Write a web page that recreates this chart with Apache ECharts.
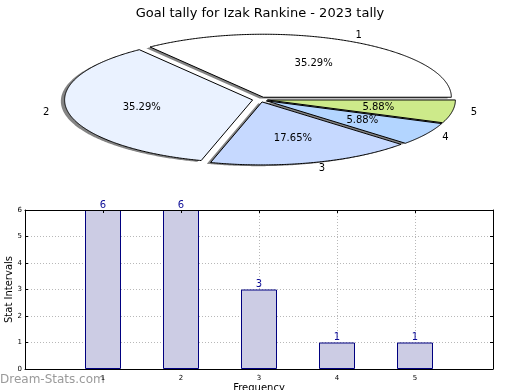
<!DOCTYPE html>
<html>
<head>
<meta charset="utf-8">
<script src="https://cdn.jsdelivr.net/npm/echarts@6/dist/echarts.min.js"></script>
<style>
html,body{margin:0;padding:0;background:#fff;}
#main{width:520px;height:390px;}
</style>
</head>
<body>
<div id="main"></div>
<script>
const titleText = 'Goal tally for Izak Rankine - 2023 tally';
const categories = ['1', '2', '3', '4', '5'];
const values = [6, 6, 3, 1, 1];
const sliceColors = ['#ffffff', '#eaf2ff', '#c6d9ff', '#b3d5ff', '#cdea8a'];
const yTicks = [0, 1, 2, 3, 4, 5, 6];
const yAxisName = 'Stat Intervals';
const xAxisName = 'Frequency';
const watermark = 'Dream-Stats.com';

const FONT = 'DejaVu Sans';
const total = values.reduce((a, b) => a + b, 0);
const cum = [0];
values.forEach((v, i) => cum.push(cum[i] + v));

// pie geometry (elliptical, matplotlib style)
const P = { cx: 260, cy: 99.5, rx: 188, ry: 63, explode: 0.04, shX: -0.02, shY: -0.02 };

function renderSlice(params, api) {
  const i = params.dataIndex;
  const v = api.value(0);
  const a0 = cum[i] / total * 360;
  const a1 = a0 + v / total * 360;
  const mid = (a0 + a1) / 2 * Math.PI / 180;
  const ox = P.cx + P.explode * P.rx * Math.cos(mid);
  const oy = P.cy - P.explode * P.ry * Math.sin(mid);
  const pts = [[ox, oy]];
  const steps = Math.max(2, Math.ceil((a1 - a0) * 2));
  for (let k = 0; k <= steps; k++) {
    const a = (a0 + (a1 - a0) * k / steps) * Math.PI / 180;
    pts.push([ox + P.rx * Math.cos(a), oy - P.ry * Math.sin(a)]);
  }
  const sdx = P.shX * P.rx, sdy = -P.shY * P.ry;
  const shadowPts = pts.map(p => [p[0] + sdx, p[1] + sdy]);
  const pct = (v / total * 100).toFixed(2) + '%';
  const cx6 = Math.cos(mid), sy6 = Math.sin(mid);
  return {
    type: 'group',
    children: [
      { type: 'polygon', z2: 0, shape: { points: shadowPts }, style: { fill: 'rgba(50,50,50,0.6)' } },
      { type: 'polygon', z2: 10, shape: { points: pts }, style: { fill: sliceColors[i], stroke: '#000', lineWidth: 1 } },
      { type: 'text', z2: 20, style: { text: pct, x: ox + 0.6 * P.rx * cx6, y: oy - 0.6 * P.ry * sy6,
          align: 'center', verticalAlign: 'middle', font: '10px "' + FONT + '"', fill: '#000' } },
      { type: 'text', z2: 20, style: { text: categories[i], x: ox + 1.1 * P.rx * cx6, y: oy - 1.1 * P.ry * sy6,
          align: cx6 > 0 ? 'left' : 'right', verticalAlign: 'middle', font: '10px "' + FONT + '"', fill: '#000' } }
    ]
  };
}

const chart = echarts.init(document.getElementById('main'), null, { renderer: 'canvas' });
const gridLine = { show: true, lineStyle: { color: '#b8b8b8', type: [1, 2], width: 1 } };
const frameLine = { show: true, onZero: false, lineStyle: { color: '#000', width: 1 } };
const tick = { show: true, inside: true, length: 3, lineStyle: { color: '#000' } };
const option = {
  animation: false,
  backgroundColor: '#fff',
  textStyle: { fontFamily: FONT },
  title: {
    text: titleText, left: 'center', top: 2,
    textStyle: { fontFamily: FONT, fontSize: 13, fontWeight: 'normal', color: '#000' }
  },
  graphic: [{
    type: 'text', left: 0, top: 374,
    style: { text: watermark, font: '12px "' + FONT + '"', fill: '#9a9a9a' }
  }],
  grid: { left: 25, right: 27, top: 210, bottom: 21, show: false, outerBoundsMode: 'none', containLabel: false },
  xAxis: [{
    type: 'value', min: 0, max: 6, interval: 1, position: 'bottom',
    name: xAxisName, nameLocation: 'middle', nameGap: 14, nameMoveOverlap: false,
    nameTextStyle: { fontSize: 10, color: '#000', fontFamily: FONT },
    axisLine: frameLine, axisTick: tick,
    axisLabel: { fontSize: 7, color: '#000', margin: 6, fontFamily: FONT,
      formatter: v => (v === 0 || v === 6) ? '' : String(v) },
    splitLine: gridLine
  }, {
    type: 'value', min: 0, max: 6, interval: 1, position: 'top', z: 5,
    axisLine: frameLine, axisTick: tick,
    axisLabel: { show: false }, splitLine: { show: false }
  }],
  yAxis: [{
    type: 'value', min: 0, max: 6, interval: 1, position: 'left',
    name: yAxisName, nameLocation: 'middle', nameGap: 11, nameMoveOverlap: false,
    nameTextStyle: { fontSize: 10, color: '#000', fontFamily: FONT },
    axisLine: frameLine, axisTick: tick,
    axisLabel: { fontSize: 7, color: '#000', margin: 3, fontFamily: FONT },
    splitLine: gridLine
  }, {
    type: 'value', min: 0, max: 6, interval: 1, position: 'right', z: 5,
    axisLine: frameLine, axisTick: tick,
    axisLabel: { show: false }, splitLine: { show: false }
  }],
  series: [{
    type: 'custom',
    coordinateSystem: 'none',
    renderItem: renderSlice,
    data: values.map(v => [v]),
    silent: true
  }, {
    type: 'bar',
    xAxisIndex: 0, yAxisIndex: 0,
    data: categories.map((c, i) => [Number(c), values[i]]),
    barWidth: 36,
    itemStyle: { color: '#ccccE4', borderColor: '#000080', borderWidth: 1 },
    label: { show: true, position: 'top', distance: 0, fontSize: 10, color: '#0c0c96', fontFamily: FONT },
    z: 2
  }]
};
chart.setOption(option);
</script>
</body>
</html>
